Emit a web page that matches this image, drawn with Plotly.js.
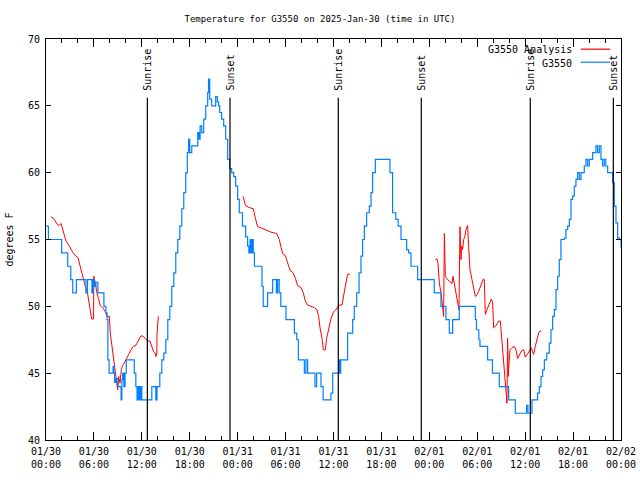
<!DOCTYPE html>
<html><head><meta charset="utf-8">
<script src="https://cdn.plot.ly/plotly-3.0.1.min.js"></script>
<style>html,body{margin:0;padding:0;background:#fff}#chart{width:640px;height:480px}</style>
</head><body><div id="chart"></div>
<script>
// hours since 2025-01-30 00:00 UTC
const obsHours = [0.0,0.3,1.0,1.5,1.96,2.5,2.72,3.1,3.35,3.8,4.5,5.0,5.2,5.6,5.75,5.9,6.05,6.25,6.5,7.0,7.25,7.5,7.65,7.75,7.9,8.25,8.4,8.5,8.6,8.75,9.0,9.2,9.4,9.5,9.6,9.75,9.9,10.05,10.5,10.9,11.05,11.25,11.4,11.55,11.7,11.85,12.0,12.5,13.05,13.25,13.6,13.75,13.9,14.1,14.25,14.5,14.75,15.0,15.25,15.5,15.75,16.0,16.25,16.5,16.75,17.0,17.25,17.5,17.7,17.85,18.0,18.25,18.75,19.0,19.15,19.3,19.5,19.75,20.0,20.25,20.35,20.5,20.75,21.05,21.25,21.45,21.6,21.75,22.0,22.25,22.5,22.75,23.0,23.25,23.5,23.75,
24.0,24.2,24.6,25.0,25.25,25.4,25.55,25.7,25.8,25.95,26.1,26.7,27.05,27.2,27.55,27.75,28.17,28.38,28.7,28.85,29.0,29.2,29.4,29.84,30.05,30.97,31.1,31.4,31.6,32.14,32.35,32.55,32.76,33.47,33.68,33.89,34.2,34.43,34.7,35.47,35.68,35.9,36.5,36.65,36.75,36.9,37.48,37.77,38.2,38.4,38.6,38.9,39.2,39.44,39.65,39.86,40.15,40.48,40.7,40.9,41.24,42.78,43.07,43.4,43.8,44.1,44.45,44.99,45.16,45.4,45.7,46.33,46.54,
48.5,48.62,49.25,49.46,49.88,50.08,50.5,50.8,50.92,51.55,51.75,53.4,53.76,53.9,54.2,54.34,55.1,55.3,55.72,55.9,56.55,56.76,57.8,57.93,58.64,58.77,60.0,60.18,60.35,60.5,60.85,61.35,61.56,61.77,61.98,62.19,62.4,62.7,63.02,63.23,63.44,63.65,63.86,64.07,64.27,64.48,64.9,65.1,65.32,65.53,65.74,65.94,66.15,66.36,66.57,66.78,66.99,67.4,67.61,67.82,68.03,68.45,68.66,68.86,69.07,69.28,69.49,69.7,69.9,70.1,70.33,70.74,70.95,71.16,71.37,71.58,71.79,72.0];
const obsTemp = [56,55,55,55,54,54,53,52,51,52,52,51,52,52,51,52,51.5,51.8,51,51,50,49.5,49,46,45,45,45.5,45,44.3,44.6,44,44,43,44.5,45,44,45,46,46,46,45,44,43,44,43,44,43,43,43,44,44,43,44,44,45,46,46.5,47.5,49,50,51.5,52.5,54,55,56,57.3,58.5,60,61.5,62.5,61.5,62,62,63,62.5,63.5,63,64,65,66,67,65.5,65,65,65.7,65.3,65,64.5,64,63.5,62.5,61,60.3,60,59.7,59,
58,57,56,55.2,54.5,54,55,54,55,54,53,53,51.5,50,50,51,51,52,52,51,52,51,50,50,49,49,48,47.5,46,46,45,46,45,45,44,45,45,44,43,43,43.5,45,45,46,45,46,46,48,48,49,50,51,52.5,53.75,55,56,57,57.5,58.5,60,61,61,60,57,56.5,56,55,55,54.25,54,53,53,52,
52,51,51,50,50,49,48,48,49,49,50,50,49,48.25,47.5,47,47,46,46,45,45,44,44,43,43,42,42,42.6,42,42,43,43,43.5,44,44.75,45.25,46,46.5,47.25,48.25,49.25,49.75,51.25,52.25,53.5,55,55.1,55.75,56,56.5,58,58.25,59,59.5,60,59.5,60,60.5,61,60.5,61,61.5,61.5,62,61.5,62,61,60.5,61,60.5,60,60,59.25,57.5,56.25,55.1,55,54.4];

const anaHours = [0.63,0.92,1.46,1.67,1.88,2.09,2.3,2.5,2.92,3.34,3.76,4.05,4.17,4.38,4.59,4.92,5.22,5.43,5.6,5.72,5.96,5.98,6.18,6.34,6.6,6.8,7.1,7.43,7.64,7.93,8.05,8.26,8.47,8.64,8.85,8.97,9.1,9.27,9.43,9.6,9.8,10.02,10.35,10.64,10.93,11.27,11.6,11.9,12.19,12.52,12.73,13.02,13.27,13.48,13.69,13.77,13.88,13.9,14.07,null,
24.71,24.96,25.38,25.96,26.21,26.5,26.8,27.55,28.17,28.88,29.22,29.43,29.63,29.97,30.26,30.55,30.89,31.22,31.51,31.93,32.22,32.47,32.76,33.18,33.6,33.93,34.14,34.31,34.56,34.73,34.98,35.14,35.39,35.69,35.98,36.31,36.56,36.81,37.06,37.23,37.48,37.77,38.06,null,
48.75,48.96,49.08,49.25,49.46,49.67,49.79,49.88,49.92,50.0,50.29,50.58,50.84,50.96,51.13,51.34,51.55,51.71,51.84,51.96,52.05,52.17,52.3,52.46,52.59,52.8,52.92,53.09,53.34,53.55,53.76,53.92,54.17,54.47,54.76,54.88,55.01,55.22,55.51,55.76,55.93,56.05,56.35,56.68,56.89,57.1,57.26,57.43,57.6,57.72,57.8,57.89,57.98,58.1,58.35,58.64,58.85,59.06,59.35,59.6,59.81,60.02,60.31,60.6,60.77,60.94,61.06,61.27,61.48,61.69,61.85,62.02];
const anaTemp = [56.7,56.6,56.1,56.05,56.2,55.75,55.25,54.9,54.5,54.05,53.75,53.6,53.25,52.75,52.1,51.5,50.9,50.25,49.6,49.05,49.05,52.25,51.75,51.1,50.5,50.05,49.9,49.6,49.25,49.25,48,47,46,45,44.25,43.75,44.75,44.25,45.25,45.6,45.75,46.05,46.4,46.75,47,47.1,47.5,47.8,47.75,47.5,47.4,47.4,47,46.6,46.5,46.25,46.5,48,49.25,null,
58.2,57.55,57.4,57.3,56.6,55.95,55.9,55.7,55.55,55.45,55,54.4,53.95,53.8,53.25,52.7,52.55,52.1,51.55,51.4,51,50.4,50.1,50,49.9,49.75,49.25,48.4,47.6,46.75,46.75,47.6,48.4,49.1,49.55,49.75,50,50.1,50.1,50.75,51.5,52.4,52.4,null,
53.5,53.55,53.25,51.75,51,49.5,49.25,55.45,53.75,52.25,52,51.8,51.7,52.25,51.7,51,50.25,49.75,55.95,53.5,54.5,54.25,55,55.25,55.75,56.05,54.5,52.75,52,51.4,50.75,50.8,51.1,51.6,52.05,52,49.4,49.75,50.25,50.55,50.25,48.4,48.55,48.9,48.9,47.5,46,45,43.75,42.75,47.6,44.75,45.75,46.75,46.9,47,46.75,46.1,46.45,46.7,46.75,46.2,46.45,46.75,46.9,46.6,46.4,47,47.5,48,48.15,48.15];

const sunHours = [12.69,23.04,36.6,46.99,60.64,71.04];
const sunLabels = ['Sunrise','Sunset','Sunrise','Sunset','Sunrise','Sunset'];

const seriesNames = ['G3550 Analysis','G3550'];
const seriesColors = ['#ff0000','#0080ff'];

const START = Date.UTC(2025,0,30,0,0,0);
function toDate(h){
  if(h===null) return null;
  const d = new Date(START + Math.round(h*3600000));
  return d.toISOString().replace('T',' ').slice(0,19);
}

const FONT = 'DejaVu Sans Mono, Liberation Mono, monospace';

const traces = [
  {x: anaHours.map(toDate), y: anaTemp, type:'scatter', mode:'lines', name:seriesNames[0],
   line:{color:seriesColors[0], width:1}, connectgaps:false, showlegend:false},
  {x: obsHours.map(toDate), y: obsTemp, type:'scatter', mode:'lines', name:seriesNames[1],
   line:{color:seriesColors[1], width:1.2, shape:'hv'}, showlegend:false}
];

const shapes = sunHours.map(h => ({type:'line', xref:'x', yref:'y', x0:toDate(h), x1:toDate(h), y0:40, y1:65.6,
  line:{color:'#000', width:1.2}}));
const annotations = sunHours.map((h,i) => ({x:toDate(h), y:66.0, xref:'x', yref:'y', text:sunLabels[i],
  textangle:-90, showarrow:false, xanchor:'center', yanchor:'bottom', font:{family:FONT, size:10, color:'#000'}}));

// gnuplot-style key: text right-aligned, sample line to its right
const keyY = [0.9726, 0.9401];
seriesNames.forEach((nm,i) => {
  annotations.push({xref:'paper', yref:'paper', x:0.919, y:keyY[i], text:nm, showarrow:false,
    xanchor:'right', yanchor:'middle', font:{family:FONT, size:10, color:'#000'}});
  shapes.push({type:'line', xref:'paper', yref:'paper', x0:0.930, x1:0.981, y0:keyY[i]+0.002, y1:keyY[i]+0.002,
    line:{color:seriesColors[i], width:1.2}});
});

const layout = {
  width:640, height:480,
  margin:{l:46, r:19, t:39, b:40},
  paper_bgcolor:'#fff', plot_bgcolor:'#fff',
  font:{family:FONT, size:10, color:'#000'},
  title:{text:'Temperature for G3550 on 2025-Jan-30 (time in UTC)', x:0.5, xref:'container', y:0.96, yref:'container', yanchor:'middle', font:{family:FONT, size:9, color:'#000'}},
  xaxis:{type:'date', range:[toDate(0), toDate(72)], tickformat:'%m/%d<br>%H:%M', dtick:21600000, tick0:toDate(0),
    ticks:'inside', ticklen:8, tickcolor:'#000', showline:true, linecolor:'#000', linewidth:1, mirror:'ticks',
    showgrid:false, zeroline:false, ticklabelstandoff:2, tickfont:{family:FONT, size:10, color:'#000'},
    minor:{dtick:7200000, ticks:'inside', ticklen:4, tickcolor:'#000', showgrid:false}},
  yaxis:{range:[40,70], dtick:5, ticks:'inside', ticklen:5, tickcolor:'#000', showline:true, linecolor:'#000', linewidth:1,
    mirror:'ticks', showgrid:false, zeroline:false, ticklabelstandoff:3, tickfont:{family:FONT, size:10, color:'#000'},
    title:{text:'degrees F', font:{family:FONT, size:10, color:'#000'}, standoff:12}},
  showlegend:false,
  shapes:shapes, annotations:annotations
};

Plotly.newPlot('chart', traces, layout, {staticPlot:true, displayModeBar:false});
</script></body></html>
